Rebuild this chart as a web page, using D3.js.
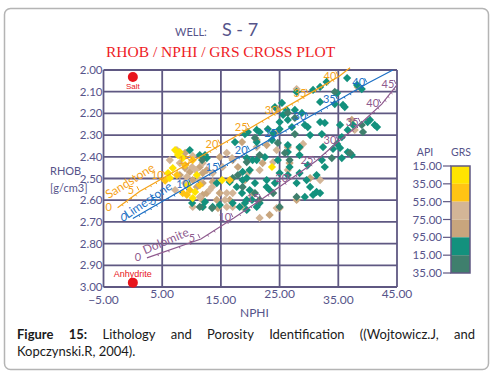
<!DOCTYPE html>
<html>
<head>
<meta charset="utf-8">
<script src="https://d3js.org/d3.v7.min.js"></script>
<style>
  body { margin: 0; background: #fff; }
  text { font-family: Lato, "DejaVu Sans", sans-serif; }
</style>
</head>
<body>
<script>
// axis ticks
const nphiTicks = [-5, 5, 15, 25, 35, 45];
const rhobTicks = [2.0, 2.1, 2.2, 2.3, 2.4, 2.5, 2.6, 2.7, 2.8, 2.9, 3.0];

// GRS legend
const grsLabels = ["15.00", "35.00", "55.00", "75.00", "95.00", "15.00", "35.00"];
const grsColors = ["#ffe400", "#ffc414", "#d3b597", "#c8a57d", "#13917d", "#3f7f6d"];

// points [NPHI, RHOB] for each GRS class
const grs15_35 = [[7.7,2.392],[8.5,2.406],[6.8,2.452],[6.0,2.475],[9.4,2.530],[10.6,2.562],[10.2,2.590],
  [10.9,2.484],[8.0,2.378],[7.2,2.369],[6.3,2.498],[15.2,2.507],[23.7,2.447]];
const grs35_55 = [[7.5,2.484],[9.2,2.576],[10.2,2.415],[8.5,2.567],[9.7,2.553],[16.5,2.507],[8.9,2.438],
  [5.5,2.510],[11.4,2.530]];
const grs55_75 = [[7.5,2.369],[10.2,2.396],[16.0,2.382],[15.3,2.447],[13.5,2.539],[11.4,2.585],[16.0,2.567],
  [17.0,2.631],[23.9,2.424],[21.6,2.461],[31.9,2.507],[24.5,2.636],[18.7,2.631],[11.9,2.429],[13.6,2.475],
  [13.1,2.553],[15.7,2.599],[16.0,2.631],[17.0,2.567],[19.6,2.475],[24.5,2.369],[26.4,2.461],[21.6,2.682],
  [16.9,2.406],[21.1,2.355],[8.0,2.429],[10.1,2.447],[9.2,2.493],[11.4,2.507],[8.9,2.521],[10.2,2.631],
  [27.9,2.088],[29.0,2.341],[37.8,2.276],[10.7,2.461],[6.3,2.415],[7.2,2.553]];
const grs75_95 = [[8.9,2.382],[18.6,2.332],[21.1,2.323],[17.0,2.415],[11.9,2.475],[12.6,2.567],[14.3,2.599],
  [16.5,2.599],[26.4,2.355],[28.4,2.359],[19.9,2.461],[30.2,2.498],[27.9,2.599],[20.4,2.567],[38.3,2.078],
  [12.6,2.461],[11.9,2.521],[14.8,2.567],[14.5,2.636],[11.9,2.631],[17.9,2.447],[22.1,2.429],[26.7,2.429],
  [23.3,2.668],[14.8,2.401],[22.8,2.346],[8.9,2.452],[11.4,2.447],[10.2,2.507],[10.9,2.539],[11.9,2.576],
  [11.8,2.599],[24.5,2.180],[24.7,2.286],[37.3,2.230],[25.0,2.636],[9.7,2.470],[8.0,2.484],[13.6,2.516],
  [19.1,2.507]];
const grs95_115 = [[12.6,2.406],[19.6,2.286],[21.1,2.276],[11.9,2.631],[13.6,2.631],[14.8,2.622],[17.7,2.539],
  [19.1,2.613],[20.3,2.599],[21.1,2.631],[19.9,2.461],[20.8,2.521],[19.4,2.406],[21.1,2.415],[36.5,2.037],
  [38.2,2.069],[33.0,2.055],[31.9,2.078],[27.9,2.101],[25.4,2.152],[34.8,2.106],[31.9,2.147],[27.6,2.184],
  [28.8,2.198],[25.6,2.207],[26.4,2.230],[31.9,2.240],[32.7,2.244],[36.1,2.171],[37.5,2.253],[40.0,2.240],
  [41.6,2.263],[36.6,2.276],[27.1,2.263],[29.8,2.263],[25.0,2.240],[21.6,2.286],[23.9,2.290],[21.1,2.332],
  [23.7,2.323],[26.4,2.346],[28.4,2.355],[32.4,2.355],[35.3,2.359],[35.6,2.406],[32.2,2.415],[32.7,2.447],
  [26.4,2.378],[28.4,2.392],[24.7,2.415],[22.5,2.401],[20.4,2.415],[29.8,2.438],[26.7,2.447],[25.0,2.475],
  [28.4,2.475],[31.3,2.484],[29.6,2.507],[30.2,2.539],[31.3,2.562],[29.3,2.585],[30.7,2.576],[31.9,2.567],
  [22.8,2.539],[18.7,2.507],[19.4,2.599],[21.6,2.613],[18.2,2.631],[12.3,2.392],[18.7,2.470],[19.4,2.498],
  [19.9,2.553],[18.6,2.567],[22.8,2.507],[24.2,2.521],[23.3,2.553],[19.4,2.645],[17.0,2.613],[16.5,2.516],
  [12.3,2.608],[14.3,2.521],[26.4,2.484],[27.9,2.521],[11.4,2.392],[9.7,2.369],[10.1,2.613],[30.7,2.092],
  [34.4,2.157],[24.2,2.171],[26.2,2.184],[23.0,2.272],[19.1,2.295],[25.0,2.272],[29.3,2.253],[30.2,2.300],
  [32.2,2.295],[17.4,2.332],[39.0,2.088],[35.8,2.161],[40.4,2.230],[41.2,2.253],[35.3,2.253],[35.6,2.309],
  [34.8,2.341],[36.6,2.378],[37.3,2.392],[34.1,2.364]];
const grs115_135 = [[11.8,2.415],[20.8,2.313],[18.7,2.539],[39.0,2.253],[39.2,2.286],[26.4,2.198],[27.6,2.221],
  [25.9,2.382],[26.7,2.415],[21.6,2.392],[19.4,2.424],[37.0,2.382],[33.9,2.406],[27.9,2.585],[23.9,2.567],
  [21.6,2.599],[25.0,2.631],[20.8,2.567],[17.9,2.484],[17.0,2.498],[13.5,2.636],[11.4,2.631],[24.7,2.336],
  [34.4,2.101],[27.6,2.295]];

// lithology lines [porosity, NPHI, RHOB]
const sandstone = [[0,-2.6,2.635],[5,1.2,2.559],[10,5.7,2.490],[15,10.3,2.418],[20,15.0,2.344],[25,20.0,2.267],
  [30,25.1,2.187],[35,30.0,2.110],[40,35.1,2.030],[null,37.0,1.99]];
const limestone = [[0,0,2.684],[5,5,2.606],[10,10,2.528],[15,15,2.450],[20,20,2.372],[25,25,2.295],
  [30,30,2.217],[35,35,2.139],[40,40,2.061],[null,44.3,2.0]];
const dolomite = [[0,2.4,2.866],[5,11.6,2.779],[10,17.2,2.682],[15,22.0,2.594],[20,26.9,2.502],[25,31.2,2.419],
  [30,35.1,2.327],[35,38.9,2.244],[40,42.4,2.157],[45,45.0,2.069]];
const lithNames = [
  {name: "Sandstone", nphi: -0.5, rhob: 2.511, angle: -32, color: "#f5a31a"},
  {name: "Limestone", nphi: 2.6, rhob: 2.599, angle: -34, color: "#1c6fc4"},
  {name: "Dolomite", nphi: 5.6, rhob: 2.788, angle: -23, color: "#8e5a8e"}
];
const minerals = [
  {name: "Salt", nphi: 0, rhob: 2.032, dy: 12},
  {name: "Anhydrite", nphi: 0, rhob: 2.98, dy: -6}
];

let width = 495, height = 380;
let svg = d3.select("body").append("svg")
    .attr("width", width)
    .attr("height", height);

// frame
svg.append("rect")
    .attr("x", 4.5).attr("y", 8.5)
    .attr("width", 484).attr("height", 361)
    .attr("rx", 6)
    .attr("fill", "none")
    .attr("stroke", "#b4b4b4")
    .attr("stroke-width", 1.5);

let x = d3.scaleLinear().domain([-5, 45]).range([103.5, 397]);
let y = d3.scaleLinear().domain([2, 3]).range([70, 287]);
const gridColor = "#5f5882";
const textColor = "#56548a";

// titles
svg.append("text").attr("x", 175).attr("y", 36)
    .style("font-size", "11px").attr("fill", textColor).text("WELL:");
svg.append("text").attr("x", 222).attr("y", 36)
    .style("font-size", "18px").attr("fill", textColor).text("S - 7");
svg.append("text").attr("x", 106).attr("y", 57)
    .style("font-family", "'Liberation Serif', serif")
    .style("font-size", "15.5px").attr("fill", "#ee1c25")
    .text("RHOB / NPHI / GRS CROSS PLOT");

// grid
let grid = svg.append("g");
grid.selectAll(".v").data(nphiTicks).join("line")
    .attr("x1", d => x(d)).attr("x2", d => x(d))
    .attr("y1", y(2)).attr("y2", y(3))
    .attr("stroke", gridColor).attr("stroke-width", 1.8);
grid.selectAll(".h").data(rhobTicks).join("line")
    .attr("x1", x(-5)).attr("x2", x(45))
    .attr("y1", d => y(d)).attr("y2", d => y(d))
    .attr("stroke", gridColor).attr("stroke-width", 1.8);

// y labels
svg.append("g").selectAll("text").data(rhobTicks).join("text")
    .attr("x", x(-5) - 1).attr("y", d => y(d) + 4)
    .attr("text-anchor", "end")
    .style("font-size", "11.5px").attr("fill", textColor)
    .text(d => d3.format(".2f")(d));

// x labels (staggered)
svg.append("g").selectAll("text").data(nphiTicks).join("text")
    .attr("x", d => x(d)).attr("y", (d, i) => i % 2 === 0 ? 304 : 298)
    .attr("text-anchor", "middle")
    .style("font-size", "12px").attr("fill", textColor)
    .text(d => d3.format(".2f")(d));

svg.append("text").attr("x", 240).attr("y", 317)
    .style("font-size", "12px").attr("fill", textColor).text("NPHI");
svg.append("text").attr("x", 50).attr("y", 175)
    .style("font-size", "11px").attr("fill", textColor).text("RHOB");
svg.append("text").attr("x", 50).attr("y", 192)
    .style("font-size", "11px").attr("fill", textColor).text("[g/cm3]");

// scatter points
let diamond = d3.symbol().type(d3.symbolSquare).size(34);
let groups = [grs75_95, grs55_75, grs95_115, grs115_135, grs35_55, grs15_35];
let groupColor = [grsColors[3], grsColors[2], grsColors[4], grsColors[5], grsColors[1], grsColors[0]];
let pts = svg.append("g");
groups.forEach(function(g, i) {
    pts.append("g").selectAll("path").data(g).join("path")
        .attr("d", diamond)
        .attr("transform", d => "translate(" + x(d[0]) + "," + y(d[1]) + ") rotate(45)")
        .attr("fill", groupColor[i]);
});

// lithology lines
function drawLith(data, color) {
    let g = svg.append("g");
    let line = d3.line().x(d => x(d[1])).y(d => y(d[2]));
    g.append("path").datum(data)
        .attr("d", line)
        .attr("fill", "none")
        .attr("stroke", color)
        .attr("stroke-width", 1.2);
    // small tick marks along the line
    for (let i = 0; i < data.length - 1; i++) {
        if (data[i + 1][0] === null) break;
        let x0 = x(data[i][1]), y0 = y(data[i][2]);
        let x1 = x(data[i + 1][1]), y1 = y(data[i + 1][2]);
        let len = Math.hypot(x1 - x0, y1 - y0);
        let nx = -(y1 - y0) / len, ny = (x1 - x0) / len;
        for (let k = 1; k < 5; k++) {
            let px = x0 + (x1 - x0) * k / 5, py = y0 + (y1 - y0) * k / 5;
            g.append("line")
                .attr("x1", px).attr("y1", py)
                .attr("x2", px + nx * 2).attr("y2", py + ny * 2)
                .attr("stroke", color).attr("stroke-width", 1);
        }
    }
    let labeled = data.filter(d => d[0] !== null);
    g.selectAll("text").data(labeled).join("text")
        .attr("x", d => x(d[1]) - 9).attr("y", d => y(d[2]) + 3)
        .attr("text-anchor", "middle")
        .style("font-size", "11px")
        .attr("fill", color)
        .text(d => d[0]);
    g.selectAll(".hook").data(labeled.filter(d => d[0] > 0)).join("path")
        .attr("d", d => {
            let px = x(d[1]), py = y(d[2]);
            return "M" + (px - 3) + "," + (py - 5) + "L" + (px - 1) + "," + (py - 1);
        })
        .attr("fill", "none").attr("stroke", color).attr("stroke-width", 1);
}
drawLith(sandstone, lithNames[0].color);
drawLith(limestone, lithNames[1].color);
drawLith(dolomite, lithNames[2].color);

svg.append("g").selectAll("text").data(lithNames).join("text")
    .attr("transform", d => "translate(" + x(d.nphi) + "," + y(d.rhob) + ") rotate(" + d.angle + ")")
    .attr("text-anchor", "middle")
    .attr("dy", "0.35em")
    .style("font-size", "12px")
    .attr("fill", d => d.color)
    .text(d => d.name);

// salt / anhydrite
let min = svg.append("g");
min.selectAll("circle").data(minerals).join("circle")
    .attr("cx", d => x(d.nphi)).attr("cy", d => y(d.rhob))
    .attr("r", 5).attr("fill", "#e8141c");
min.selectAll("text").data(minerals).join("text")
    .attr("x", d => x(d.nphi)).attr("y", d => y(d.rhob) + d.dy)
    .attr("text-anchor", "middle")
    .style("font-family", "'Liberation Sans', Arial, sans-serif")
    .style("font-size", d => d.name === "Salt" ? "8px" : "9px")
    .attr("fill", "#e8141c")
    .text(d => d.name);

// GRS legend
let ly = d3.scaleLinear().domain([0, 6]).range([166, 273]);
let leg = svg.append("g");
leg.append("text").attr("x", 425).attr("y", 156).attr("text-anchor", "middle")
    .style("font-size", "10.5px").attr("fill", textColor).text("API");
leg.append("text").attr("x", 461).attr("y", 156).attr("text-anchor", "middle")
    .style("font-size", "10.5px").attr("fill", textColor).text("GRS");
leg.selectAll("rect").data(grsColors).join("rect")
    .attr("x", 451).attr("width", 19)
    .attr("y", (d, i) => ly(i)).attr("height", (d, i) => ly(i + 1) - ly(i))
    .attr("fill", d => d);
leg.append("rect").attr("x", 451).attr("y", ly(0)).attr("width", 19).attr("height", ly(6) - ly(0))
    .attr("fill", "none").attr("stroke", gridColor).attr("stroke-width", 1.5);
leg.selectAll(".tk").data(grsLabels).join("line")
    .attr("x1", 443).attr("x2", 451)
    .attr("y1", (d, i) => ly(i)).attr("y2", (d, i) => ly(i))
    .attr("stroke", gridColor).attr("stroke-width", 1.2);
leg.selectAll("text.lab").data(grsLabels).join("text")
    .attr("class", "lab")
    .attr("x", 442).attr("y", (d, i) => ly(i) + 4)
    .attr("text-anchor", "end")
    .style("font-size", "11.5px").attr("fill", textColor)
    .text(d => d);

// caption, first line justified
const captionLine1 = [
  {t: "Figure", b: true}, {t: "15:", b: true}, {t: "Lithology"}, {t: "and"}, {t: "Porosity"},
  {t: "Identification"}, {t: "((Wojtowicz.J,"}, {t: "and"}
];
const captionLine2 = "Kopczynski.R, 2004).";
let cap = svg.append("g")
    .style("font-family", "'Liberation Sans', Arial, sans-serif")
    .style("font-size", "13px")
    .attr("fill", "#1a1a1a");
let words = cap.selectAll("text.w").data(captionLine1).join("text")
    .attr("class", "w")
    .attr("y", 339)
    .style("font-weight", d => d.b ? "bold" : "normal")
    .text(d => d.t);
let widths = [];
words.each(function() { widths.push(this.getComputedTextLength()); });
let left = 17, right = 475;
let gap = (right - left - d3.sum(widths)) / (widths.length - 1);
let cx = left;
words.each(function(d, i) {
    d3.select(this).attr("x", cx);
    cx += widths[i] + gap;
});
cap.append("text").attr("x", left).attr("y", 356).text(captionLine2);
</script>
</body>
</html>
